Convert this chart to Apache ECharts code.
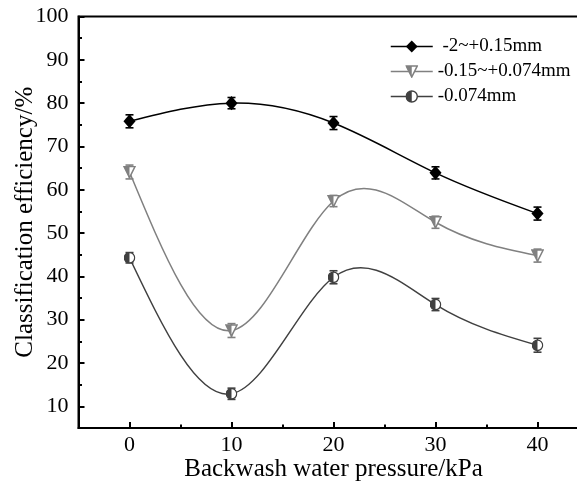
<!DOCTYPE html>
<html><head><meta charset="utf-8">
<script src="https://cdn.jsdelivr.net/npm/echarts@6/dist/echarts.min.js"></script>
<style>html,body{margin:0;padding:0;background:#fff}#chart{width:577px;height:492px}</style>
</head><body><div id="chart"></div>
<script>
// ---- data ----
const pressures = [0, 10, 20, 30, 40];
const seriesNames = [' -2~+0.15mm', '-0.15~+0.074mm', '-0.074mm'];
const coarse = [75.8, 80.0, 75.4, 63.9, 54.5];
const medium = [64.1, 27.5, 57.4, 52.5, 44.8];
const fine = [44.3, 12.9, 39.8, 33.5, 24.1];
const coarseErr = [1.5, 1.3, 1.5, 1.4, 1.5];
const mediumErr = [1.6, 1.6, 1.3, 1.4, 1.5];
const fineErr = [1.2, 1.3, 1.5, 1.4, 1.6];
const xTickLabels = [0, 10, 20, 30, 40];
const yTickLabels = [10, 20, 30, 40, 50, 60, 70, 80, 90, 100];

// ---- style ----
const FONT = 'Liberation Serif';
const colors = ['#000000', '#808080', '#404040'];

function svgUri(svg) {
  return 'image://data:image/svg+xml;charset=utf-8,' + encodeURIComponent(svg);
}
const symDiamond = svgUri("<svg xmlns='http://www.w3.org/2000/svg' width='14' height='16' viewBox='0 0 14 16'><polygon points='7,0.5 13.5,8 7,15.5 0.5,8' fill='#000'/></svg>");
const symTriangle = svgUri("<svg xmlns='http://www.w3.org/2000/svg' width='12' height='12' viewBox='0 0 12 12'><polygon points='0.8,0.8 11.2,0.8 6,11.2' fill='#fff' stroke='#808080' stroke-width='1.4'/><polygon points='0.8,0.8 6,0.8 6,11.2' fill='#808080'/></svg>");
const symCircle = svgUri("<svg xmlns='http://www.w3.org/2000/svg' width='12' height='12' viewBox='0 0 12 12'><circle cx='6' cy='6' r='5.2' fill='#fff' stroke='#404040' stroke-width='1.3'/><path d='M6,0.8 A5.2,5.2 0 0 0 6,11.2 Z' fill='#404040'/></svg>");
const symbols = [symDiamond, symTriangle, symCircle];
const symbolSizes = [[13, 15], [13, 13], [12, 12]];

// natural cubic spline slopes (for drawing the connecting curve)
function splineSlopes(xs, ys) {
  const n = xs.length;
  const h = [];
  for (let i = 0; i < n - 1; i++) h.push(xs[i + 1] - xs[i]);
  const a = new Array(n).fill(0), b = new Array(n).fill(1), c = new Array(n).fill(0), d = new Array(n).fill(0);
  for (let i = 1; i < n - 1; i++) {
    a[i] = h[i - 1]; b[i] = 2 * (h[i - 1] + h[i]); c[i] = h[i];
    d[i] = 6 * ((ys[i + 1] - ys[i]) / h[i] - (ys[i] - ys[i - 1]) / h[i - 1]);
  }
  const cp = new Array(n).fill(0), dp = new Array(n).fill(0);
  cp[0] = c[0] / b[0]; dp[0] = d[0] / b[0];
  for (let i = 1; i < n; i++) {
    const m = b[i] - a[i] * cp[i - 1];
    cp[i] = c[i] / m; dp[i] = (d[i] - a[i] * dp[i - 1]) / m;
  }
  const M = new Array(n).fill(0);
  M[n - 1] = dp[n - 1];
  for (let i = n - 2; i >= 0; i--) M[i] = dp[i] - cp[i] * M[i + 1];
  const s = [];
  for (let i = 0; i < n - 1; i++) s.push((ys[i + 1] - ys[i]) / h[i] - h[i] * (2 * M[i] + M[i + 1]) / 6);
  s.push((ys[n - 1] - ys[n - 2]) / h[n - 2] + h[n - 2] * (M[n - 2] + 2 * M[n - 1]) / 6);
  return s;
}
function segments(xs, ys) {
  const m = splineSlopes(xs, ys);
  const out = [];
  for (let i = 0; i < xs.length - 1; i++) out.push([xs[i], ys[i], xs[i + 1], ys[i + 1], m[i], m[i + 1]]);
  return out;
}

const allValues = [coarse, medium, fine];
const allErrs = [coarseErr, mediumErr, fineErr];

const series = [];
allValues.forEach((vals, k) => {
  const color = colors[k];
  series.push({
    type: 'custom', name: seriesNames[k] + '_curve', z: 2, silent: true,
    xAxisIndex: 0, yAxisIndex: 0,
    data: segments(pressures, vals),
    encode: { x: [0, 2], y: [1, 3] },
    renderItem: function (params, api) {
      const x0 = api.value(0), y0 = api.value(1), x1 = api.value(2), y1 = api.value(3);
      const m0 = api.value(4), m1 = api.value(5);
      const h = (x1 - x0) / 3;
      const p0 = api.coord([x0, y0]), p1 = api.coord([x1, y1]);
      const c0 = api.coord([x0 + h, y0 + m0 * h]), c1 = api.coord([x1 - h, y1 - m1 * h]);
      return { type: 'bezierCurve',
        shape: { x1: p0[0], y1: p0[1], x2: p1[0], y2: p1[1], cpx1: c0[0], cpy1: c0[1], cpx2: c1[0], cpy2: c1[1] },
        style: { stroke: color, fill: null, lineWidth: 1.5 } };
    }
  });
  series.push({
    type: 'custom', name: seriesNames[k] + '_err', z: 3, silent: true,
    xAxisIndex: 0, yAxisIndex: 0,
    data: pressures.map((x, i) => [x, vals[i], allErrs[k][i]]),
    encode: { x: 0, y: 1 },
    renderItem: function (params, api) {
      const x = api.value(0), y = api.value(1), e = api.value(2);
      const top = api.coord([x, y + e]), bot = api.coord([x, y - e]);
      const w = 4;
      const st = { stroke: color, lineWidth: 1.6 };
      return { type: 'group', children: [
        { type: 'line', shape: { x1: top[0], y1: top[1], x2: bot[0], y2: bot[1] }, style: st },
        { type: 'line', shape: { x1: top[0] - w, y1: top[1], x2: top[0] + w, y2: top[1] }, style: st },
        { type: 'line', shape: { x1: bot[0] - w, y1: bot[1], x2: bot[0] + w, y2: bot[1] }, style: st }
      ] };
    }
  });
  series.push({
    type: 'line', name: seriesNames[k], z: 4,
    xAxisIndex: 0, yAxisIndex: 0,
    data: pressures.map((x, i) => [x, vals[i]]),
    symbol: symbols[k], symbolSize: symbolSizes[k], showSymbol: true,
    itemStyle: { color: color },
    lineStyle: { color: color, width: 1.5, opacity: 0 },
    emphasis: { disabled: true }, animation: false
  });
});

const axisLineStyle = { color: '#000', width: 2 };
const option = {
  animation: false,
  backgroundColor: '#fff',
  textStyle: { fontFamily: FONT },
  grid: { left: 78.5, top: 16.5, bottom: 64, right: -11.5, containLabel: false, outerBoundsMode: 'none',
    show: true, borderColor: '#000', borderWidth: 2, backgroundColor: 'transparent' },
  legend: {
    orient: 'vertical', left: 390, top: 37, padding: 0,
    itemWidth: 42, itemHeight: 16, itemGap: 6,
    data: seriesNames,
    textStyle: { fontFamily: FONT, fontSize: 19, color: '#000' },
    lineStyle: { width: 1.5, opacity: 1 },
    selectedMode: false
  },
  xAxis: [{
    type: 'value', min: -5, max: 45, minInterval: 10, maxInterval: 10, position: 'bottom',
    axisLine: { onZero: false, lineStyle: axisLineStyle },
    axisTick: { inside: true, length: 6, lineStyle: { color: '#000', width: 2 } },
    axisLabel: { formatter: v => xTickLabels.includes(v) ? String(v) : '', fontFamily: FONT, fontSize: 22, color: '#000', margin: 6 },
    splitLine: { show: false },
    name: 'Backwash water pressure/kPa', nameLocation: 'middle', nameGap: 29, nameMoveOverlap: false,
    nameTextStyle: { fontFamily: FONT, fontSize: 25, color: '#000' }
  }, {
    type: 'value', min: -5, max: 45, interval: 10, position: 'bottom',
    axisLine: { show: false, onZero: false },
    axisTick: { inside: true, length: 3.5, lineStyle: { color: '#000', width: 2 } },
    axisLabel: { show: false }, splitLine: { show: false }
  }],
  yAxis: [{
    type: 'value', min: 5, max: 100, minInterval: 10, maxInterval: 10, position: 'left',
    axisLine: { show: true, onZero: false, lineStyle: axisLineStyle },
    axisTick: { show: true, inside: true, length: 6, lineStyle: { color: '#000', width: 2 } },
    axisLabel: { formatter: v => yTickLabels.includes(v) ? String(v) : '', fontFamily: FONT, fontSize: 22, color: '#000', margin: 10 },
    splitLine: { show: false },
    name: 'Classification efficiency/%', nameLocation: 'middle', nameGap: 41, nameMoveOverlap: false,
    nameTextStyle: { fontFamily: FONT, fontSize: 25, color: '#000' }
  }, {
    type: 'value', min: 5, max: 100, interval: 10, position: 'left',
    axisLine: { show: false, onZero: false },
    axisTick: { show: true, inside: true, length: 3.5, lineStyle: { color: '#000', width: 2 } },
    axisLabel: { show: false }, splitLine: { show: false }
  }],
  series: series
};
const chart = echarts.init(document.getElementById('chart'), null, { renderer: 'canvas' });
chart.setOption(option);
</script>
</body></html>
